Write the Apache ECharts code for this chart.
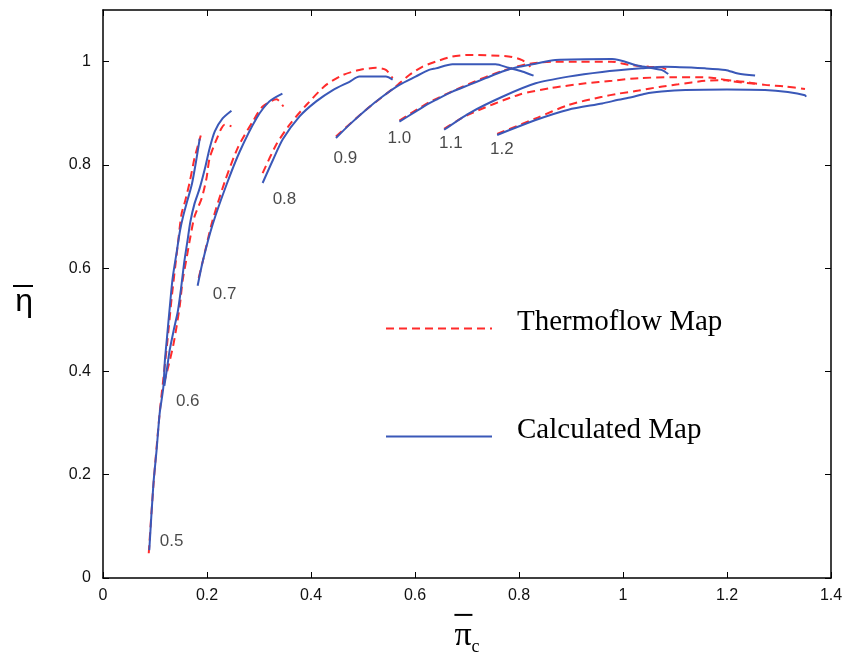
<!DOCTYPE html>
<html><head><meta charset="utf-8">
<script src="https://cdn.jsdelivr.net/npm/echarts@6/dist/echarts.min.js"></script>
<style>html,body{margin:0;padding:0;background:#fff}#c{width:849px;height:669px}</style>
</head><body><div id="c"></div>
<script>
// ---- data ----
const speeds = ['0.5','0.6','0.7','0.8','0.9','1.0','1.1','1.2'];
const xTicks = [0,0.2,0.4,0.6,0.8,1,1.2,1.4];
const yTicks = [0,0.2,0.4,0.6,0.8,1];

const thermo05 = [[0.088,0.048],[0.097,0.18],[0.109,0.32],[0.115,0.376],[0.124,0.46],[0.132,0.542],[0.144,0.647],[0.151,0.705],[0.158,0.73],[0.167,0.768],[0.176,0.813],[0.188,0.857]];
const calc05 = [[0.089,0.054],[0.097,0.183],[0.103,0.247],[0.109,0.319],[0.116,0.369],[0.119,0.421],[0.123,0.465],[0.129,0.531],[0.134,0.581],[0.142,0.633],[0.148,0.672],[0.154,0.70],[0.162,0.73],[0.171,0.763],[0.180,0.813],[0.186,0.851]];
const thermo06 = [[0.117,0.376],[0.125,0.407],[0.135,0.45],[0.142,0.49],[0.148,0.53],[0.153,0.575],[0.160,0.615],[0.167,0.655],[0.176,0.70],[0.190,0.736],[0.199,0.774],[0.205,0.813],[0.219,0.851],[0.234,0.878],[0.247,0.875]];
const calc06 = [[0.118,0.372],[0.123,0.405],[0.128,0.44],[0.136,0.48],[0.144,0.517],[0.150,0.56],[0.156,0.61],[0.162,0.65],[0.168,0.69],[0.176,0.725],[0.186,0.755],[0.196,0.793],[0.205,0.832],[0.215,0.865],[0.230,0.890],[0.247,0.905]];
const thermo07 = [[0.184,0.581],[0.192,0.614],[0.210,0.69],[0.235,0.77],[0.260,0.835],[0.288,0.884],[0.307,0.913],[0.334,0.927],[0.347,0.913]];
const calc07 = [[0.182,0.566],[0.192,0.614],[0.211,0.685],[0.238,0.763],[0.263,0.826],[0.295,0.890],[0.320,0.923],[0.345,0.938]];
const thermo08 = [[0.307,0.784],[0.333,0.839],[0.359,0.878],[0.391,0.916],[0.429,0.955],[0.461,0.974],[0.493,0.984],[0.525,0.988],[0.544,0.984],[0.557,0.968]];
const calc08 = [[0.307,0.765],[0.327,0.810],[0.346,0.850],[0.378,0.894],[0.410,0.923],[0.442,0.945],[0.474,0.961],[0.493,0.971],[0.544,0.971],[0.557,0.965]];
const thermo09 = [[0.448,0.855],[0.506,0.907],[0.563,0.952],[0.589,0.974],[0.614,0.990],[0.640,1.0],[0.672,1.010],[0.704,1.013],[0.780,1.010],[0.806,1.003],[0.822,0.990]];
const calc09 = [[0.448,0.852],[0.474,0.878],[0.506,0.907],[0.537,0.932],[0.570,0.955],[0.601,0.971],[0.627,0.984],[0.640,0.987],[0.672,0.995],[0.755,0.995],[0.780,0.988],[0.806,0.981],[0.828,0.973]];
const thermo10 = [[0.570,0.886],[0.627,0.921],[0.704,0.957],[0.768,0.982],[0.820,0.996],[0.870,1.0],[0.910,1.0],[0.978,1.0],[1.010,0.994],[1.050,0.990],[1.074,0.989],[1.083,0.985]];
const calc10 = [[0.570,0.884],[0.601,0.903],[0.627,0.919],[0.640,0.926],[0.672,0.942],[0.704,0.955],[0.736,0.968],[0.768,0.981],[0.800,0.990],[0.832,0.996],[0.870,1.003],[0.979,1.005],[1.030,0.992],[1.074,0.984],[1.087,0.976]];
const thermo11 = [[0.656,0.870],[0.704,0.898],[0.800,0.936],[0.863,0.949],[0.928,0.958],[0.979,0.963],[1.030,0.968],[1.100,0.970],[1.170,0.969],[1.210,0.962],[1.254,0.957]];
const calc11 = [[0.656,0.868],[0.704,0.900],[0.768,0.932],[0.832,0.958],[0.895,0.971],[0.960,0.980],[1.035,0.987],[1.081,0.990],[1.158,0.987],[1.197,0.984],[1.221,0.977],[1.254,0.973]];
const thermo12 = [[0.758,0.860],[0.832,0.890],[0.895,0.916],[0.960,0.932],[0.991,0.938],[1.030,0.944],[1.070,0.951],[1.106,0.956],[1.158,0.963],[1.200,0.964],[1.240,0.960],[1.273,0.955],[1.312,0.952],[1.350,0.947]];
const calc12 = [[0.758,0.858],[0.832,0.887],[0.895,0.907],[0.960,0.919],[0.991,0.926],[1.016,0.931],[1.043,0.938],[1.074,0.942],[1.120,0.945],[1.200,0.946],[1.273,0.945],[1.317,0.941],[1.350,0.935],[1.352,0.932]];

const thermoCurves = [thermo05,thermo06,thermo07,thermo08,thermo09,thermo10,thermo11,thermo12];
const calcCurves = [calc05,calc06,calc07,calc08,calc09,calc10,calc11,calc12];
// speed label anchor points (data coords)
const labelX = [0.132,0.163,0.234,0.349,0.466,0.570,0.669,0.767];
const labelY = [0.071,0.342,0.550,0.734,0.813,0.851,0.842,0.830];

// ---- chart ----
const RED = '#ff2b2b', BLUE = '#3a58b8';
const series = [];
thermoCurves.forEach((d,i)=>series.push({
  name:'Thermoflow Map', type:'line', data:d, smooth:0.25, symbol:'none',
  lineStyle:{color:RED,width:2,type:[8,5]}, itemStyle:{color:RED}, z:2
}));
calcCurves.forEach((d,i)=>series.push({
  name:'Calculated Map', type:'line', data:d, smooth:0.25, symbol:'none',
  lineStyle:{color:BLUE,width:2}, itemStyle:{color:BLUE}, z:3
}));
series.push({
  name:'labels', type:'scatter', symbolSize:1, itemStyle:{color:'rgba(0,0,0,0)'},
  data: speeds.map((s,i)=>[labelX[i],labelY[i],s]),
  label:{show:true, position:'inside', formatter:p=>p.value[2],
    fontFamily:'Liberation Sans', fontSize:17, color:'#1a1a1a'}, z:4
});

const fontAx = {fontFamily:'Liberation Sans', fontSize:16, color:'#111'};
const lineAx = {show:true, onZero:false, lineStyle:{color:'#000',width:1.5}};
const tickAx = {show:true, inside:true, length:6, lineStyle:{color:'#000'}};
const fmt = v => String(+v.toFixed(1));
const chart = echarts.init(document.getElementById('c'), null, {renderer:'canvas'});
chart.setOption({
  animation:false,
  backgroundColor:'#fff',
  grid:{left:103, right:18, top:10, bottom:91, containLabel:false},
  legend:{
    data:['Thermoflow Map','Calculated Map'], orient:'vertical',
    left:385, top:308, padding:0, itemWidth:106, itemHeight:14, itemGap:79,
    itemStyle:{opacity:0},
    formatter:n=>'{t|'+n+'}',
    textStyle:{rich:{t:{fontFamily:'Liberation Serif', fontSize:29, color:'#000', padding:[0,0,12,20]}}}
  },
  xAxis:[{
    type:'value', min:0, max:1.4, interval:0.2,
    axisLine:lineAx, axisTick:tickAx, splitLine:{show:false},
    axisLabel:Object.assign({margin:10, formatter:fmt}, fontAx),
    name:'{bar|}\n{pi|π}{sub|c}', nameLocation:'middle', nameGap:33,
    nameTextStyle:{rich:{
      bar:{width:18, height:2, backgroundColor:'#000', align:'left'},
      pi:{fontFamily:'Liberation Serif', fontSize:34, color:'#000', lineHeight:30},
      sub:{fontFamily:'Liberation Serif', fontSize:18, color:'#000', padding:[22,0,0,0]}
    }}
  },{
    type:'value', min:0, max:1.4, interval:0.2, position:'top',
    axisLine:lineAx, axisTick:tickAx, axisLabel:{show:false}, splitLine:{show:false}
  }],
  yAxis:[{
    type:'value', min:0, max:1.1, interval:0.2,
    axisLine:lineAx, axisTick:tickAx, splitLine:{show:false},
    axisLabel:Object.assign({margin:12, showMaxLabel:false, formatter:fmt}, fontAx),
    name:'{bar|}\n{eta|η}', nameLocation:'middle', nameGap:70, nameRotate:0,
    nameTextStyle:{align:'right', padding:[14,0,0,0], rich:{
      bar:{width:20, height:2, backgroundColor:'#000'},
      eta:{fontFamily:'Liberation Sans', fontSize:32, color:'#000', lineHeight:30}
    }}
  },{
    type:'value', min:0, max:1.1, interval:0.2, position:'right',
    axisLine:lineAx, axisTick:tickAx, axisLabel:{show:false}, splitLine:{show:false}
  }],
  series: series.map(s=>Object.assign({xAxisIndex:0,yAxisIndex:0},s))
});
</script></body></html>
